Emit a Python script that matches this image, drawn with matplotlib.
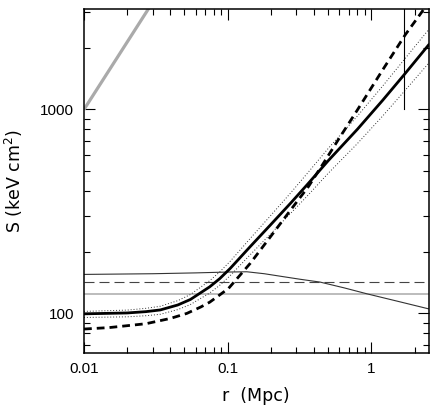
import matplotlib
matplotlib.use("Agg")
import matplotlib.pyplot as plt
from matplotlib.ticker import LogLocator, FixedLocator, FixedFormatter, NullFormatter

plt.rcParams['mathtext.fontset'] = 'custom'
plt.rcParams['mathtext.rm'] = 'DejaVu Sans'
plt.rcParams['mathtext.it'] = 'DejaVu Sans'

# ---- data ----
r_fit = [0.01, 0.02, 0.027, 0.034, 0.045, 0.055, 0.075, 0.088, 0.104, 0.143, 0.198, 0.273, 0.36, 0.5, 0.8, 1.2, 1.68, 2.5]
S_fit = [99.5, 100.5, 102, 104, 110, 117, 135, 148, 166, 212, 271, 346, 430, 560, 800, 1110, 1472, 2070]
S_fit_hi = [102.3, 103.8, 105.9, 108.4, 115.5, 123.7, 144.7, 159.7, 179.9, 232.4, 300.5, 388.2, 488, 643, 929, 1304, 1744, 2460]
S_fit_lo = [95.5, 96.2, 97.4, 99.0, 104.4, 110.5, 125.9, 137.3, 153.1, 193.4, 244.4, 308.4, 377.9, 485.7, 680.8, 929.6, 1218.6, 1683]

r_alt = [0.01, 0.015, 0.027, 0.04, 0.052, 0.065, 0.075, 0.085, 0.1014, 0.12, 0.1435, 0.198, 0.273, 0.366, 0.465, 0.6, 0.8, 1.2, 1.726, 2.31, 2.5]
S_alt = [83.8, 85.2, 89, 94.5, 100, 107.5, 113.5, 121, 132.6, 152, 175.9, 237, 320, 420, 546, 726, 995, 1565, 2330, 3090, 3550]

r_prof = [0.01, 0.03, 0.06, 0.1, 0.136, 0.18, 0.232, 0.32, 0.44, 0.65, 0.93, 1.5, 2.5]
S_prof = [155.3, 156.5, 158, 159.5, 160, 156.5, 152.2, 147, 142.4, 133.3, 124.8, 115, 105.3]

S_level_dash = 142
S_level_grey = 124.8

r_base = [0.01, 0.03]
S_base = [1000, 3350]

r_mark = 1.70
S_mark = [1000, 3100]

xlim = (0.01, 2.5)
ylim = (64.3, 3100)
xticks = [0.01, 0.1, 1]
xticklabels = ['0.01', '0.1', '1']
yticks = [100, 1000]
yticklabels = ['100', '1000']

# ---- figure ----
fig = plt.figure(figsize=(4.36, 4.17), dpi=100)
ax = fig.add_axes([84/436, 1-352.5/417, (428.5-84)/436, (352.5-9.3)/417])
ax.set_xscale('log')
ax.set_yscale('log')

ax.plot(r_base, S_base, color='#aaaaaa', lw=2.3, solid_capstyle='butt')
ax.axhline(S_level_grey, color='#aaaaaa', lw=1.1)
ax.axhline(S_level_dash, color='#444444', lw=0.8, dashes=(9, 4.5))
ax.plot(r_prof, S_prof, color='#333333', lw=0.8)
ax.plot(r_fit, S_fit_hi, color='#333333', lw=0.7, linestyle=(0, (1, 2)))
ax.plot(r_fit, S_fit_lo, color='#333333', lw=0.7, linestyle=(0, (1, 2)))
ax.plot(r_fit, S_fit, color='black', lw=2.0)
ax.plot(r_alt, S_alt, color='black', lw=2.0, dashes=(2.8, 1.8))
ax.plot([r_mark, r_mark], S_mark, color='black', lw=0.8)

ax.set_xlim(*xlim)
ax.set_ylim(*ylim)

ax.xaxis.set_major_locator(FixedLocator(xticks))
ax.xaxis.set_major_formatter(FixedFormatter(xticklabels))
ax.xaxis.set_minor_locator(LogLocator(base=10, subs=range(2, 10)))
ax.xaxis.set_minor_formatter(NullFormatter())
ax.yaxis.set_major_locator(FixedLocator(yticks))
ax.yaxis.set_major_formatter(FixedFormatter(yticklabels))
ax.yaxis.set_minor_locator(LogLocator(base=10, subs=range(2, 10)))
ax.yaxis.set_minor_formatter(NullFormatter())

ax.tick_params(which='both', direction='in', top=True, right=True, width=0.8, color='black')
ax.tick_params(which='major', length=8, pad=7)
ax.tick_params(which='minor', length=4.3)
for lab in ax.get_xticklabels() + ax.get_yticklabels():
    lab.set_fontfamily('Liberation Sans')
    lab.set_fontsize(11)
for sp in ax.spines.values():
    sp.set_linewidth(1.1)

ax.set_xlabel('r  (Mpc)', fontsize=12.5, family='DejaVu Sans', labelpad=8)
ax.set_ylabel('S (keV cm$^2$)', fontsize=12.5, family='DejaVu Sans', labelpad=11)

fig.savefig('out.png', dpi=100)
